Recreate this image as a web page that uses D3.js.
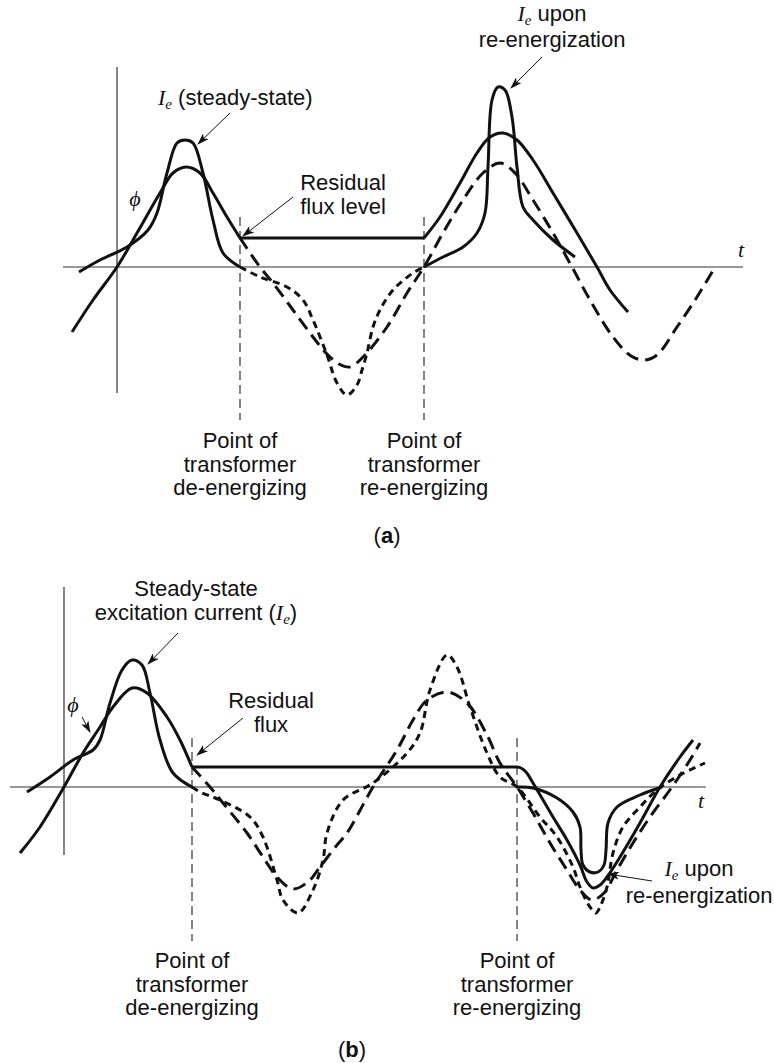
<!DOCTYPE html>
<html>
<head>
<meta charset="utf-8">
<script src="https://cdn.jsdelivr.net/npm/d3@7/dist/d3.min.js"></script>
<style>
  body { margin: 0; background: #fff; }
  text { font-family: "Liberation Sans", Arial, sans-serif; font-size: 22px; fill: #111; }
  .math { font-family: "Liberation Serif", "DejaVu Serif", serif; font-style: italic; }
</style>
</head>
<body>
<svg id="chart"></svg>
<script>
// ---- panel (a) : [t, value] pairs ----
const fluxA_before = [[-4.5,-6.5],[-2.4,-3.3],[0,0],[2.0,3.4],[4.3,7.4],[5.6,9.4],[6.9,10.0],[8.3,9.4],[9.6,7.4],[11.0,5.0],[12.3,2.9]];
const residualA = [[12.3,2.9],[30.7,2.9]];
const fluxA_after = [[30.7,2.9],[32.3,5.0],[34.3,8.4],[36.0,11.4],[37.3,13.0],[38.6,13.4],[40.0,12.7],[41.6,10.7],[43.6,7.4],[46.0,3.4],[48.0,0],[49.3,-2.3],[51.1,-4.5]];
const ssFluxA = [[12.3,2.9],[14.3,0],[15.6,-1.6],[17.6,-4.3],[19.6,-7.0],[20.9,-8.6],[22.2,-9.7],[23.3,-10.0],[24.6,-9.0],[27.0,-6.0],[29.0,-2.6],[30.7,0],[32.6,3.4],[34.6,6.7],[36.6,9.4],[38.3,10.4],[39.8,9.4],[41.6,6.7],[43.6,3.4],[45.5,0],[47.3,-3.3],[49.6,-7.0],[51.4,-8.9],[52.8,-9.3],[54.0,-8.8],[56.0,-6.0],[58.0,-3.0],[59.8,0]];
const ieA_steady = [[-3.8,-0.5],[-1.7,0.7],[1.0,2.0],[3.1,3.7],[4.0,5.4],[5.0,9.4],[6.0,12.4],[6.8,12.7],[7.6,12.4],[8.6,9.4],[9.6,4.7],[10.6,1.4],[12.3,0]];
const ieA_cont = [[12.3,0],[14.3,-1.0],[17.0,-2.0],[18.6,-3.3],[19.6,-5.3],[21.0,-8.8],[22.0,-11.6],[23.0,-12.8],[24.0,-11.8],[24.5,-10.3],[25.0,-8.6],[25.6,-6.0],[26.3,-4.3],[27.6,-2.3],[29.6,-0.6],[30.7,0]];
const ieA_reenergized = [[30.7,0],[32.6,1.0],[34.6,2.0],[36.0,3.4],[36.8,5.4],[37.1,10.0],[37.5,16.7],[38.1,18.0],[38.8,17.7],[39.5,15.0],[40.0,10.0],[40.6,6.0],[41.6,4.7],[43.6,2.7],[45.8,1.0]];
const switchA = [12.3, 30.7];

// ---- panel (b) ----
const fluxB_before = [[-4.4,-6.6],[-2.4,-4.0],[0,0],[1.9,3.4],[3.6,6.0],[4.9,8.0],[6.8,9.9],[8.3,9.4],[10.3,7.0],[11.6,4.7],[12.8,2.0]];
const residualB = [[12.8,2.0],[45.3,2.0]];
const fluxB_after = [[45.3,2.0],[45.7,1.9],[46.2,1.5],[46.9,0.4],[48.9,-3.0],[50.3,-5.3],[51.6,-7.8],[52.3,-9.5],[52.9,-10.1],[53.6,-9.8],[54.3,-9.0],[55.6,-7.0],[57.6,-3.6],[59.6,0],[61.6,3.0],[62.9,4.7]];
const ssFluxB = [[12.8,2.0],[14.6,0],[15.9,-1.6],[18.3,-4.6],[19.9,-7.0],[21.3,-9.0],[22.9,-10.2],[24.5,-9.4],[25.6,-8.0],[27.3,-5.8],[28.3,-4.6],[30.9,0],[33.3,3.7],[34.9,6.7],[36.3,8.7],[38.3,9.5],[40.3,8.4],[42.3,5.2],[43.6,2.4],[45.3,0],[46.9,-2.6],[48.6,-5.6],[50.3,-8.3],[51.6,-10.3],[52.8,-11.3],[54.0,-10.6],[55.3,-8.3],[56.9,-5.6],[58.6,-3.0],[60.8,0],[62.6,2.7],[63.6,4.4]];
const ieB_steady = [[-3.7,-0.5],[-1.4,1.0],[0.9,2.7],[2.9,3.7],[3.6,4.7],[4.6,8.4],[5.8,11.7],[6.8,12.7],[7.8,12.2],[8.6,9.4],[9.6,4.7],[10.9,1.4],[12.8,0]];
const ieB_cont = [[12.8,0],[13.6,-0.5],[15.6,-1.3],[18.6,-3.0],[19.9,-5.0],[21.3,-9.3],[21.9,-11.3],[23.4,-12.6],[24.9,-10.3],[25.9,-7.3],[26.3,-4.6],[27.9,-1.3],[30.9,0.4],[34.3,3.4],[35.6,5.4],[36.6,9.7],[38.3,13.2],[39.3,12.0],[40.6,8.0],[42.3,3.4],[43.6,1.0],[45.3,0],[47.6,-3.0],[49.3,-5.0],[50.9,-8.0],[51.6,-10.0],[52.6,-12.0],[53.2,-12.6],[53.6,-12.0],[54.3,-10.0],[54.9,-6.6],[55.9,-4.0],[57.6,-2.0],[59.3,-0.3],[61.6,1.2],[64.1,2.4]];
const ieB_reenergized = [[45.3,0],[46.9,-0.1],[49.3,-1.1],[50.9,-2.5],[51.6,-4.0],[51.7,-6.3],[51.9,-7.8],[52.6,-8.5],[53.4,-8.5],[54.0,-7.8],[54.2,-6.3],[54.4,-3.6],[55.3,-2.0],[57.6,-0.8],[59.8,0]];
const switchB = [12.8, 45.3];

const pointLabelA = ['Point of', 'transformer', 'de-energizing'];
const pointLabelB = ['Point of', 'transformer', 're-energizing'];

const svgWidth = 774;
const svgHeight = 1063;

const svg = d3.select('#chart')
  .attr('width', svgWidth)
  .attr('height', svgHeight);

svg.append('rect').attr('width', svgWidth).attr('height', svgHeight).attr('fill', '#fff');

svg.append('defs').append('marker')
  .attr('id', 'head')
  .attr('markerUnits', 'userSpaceOnUse')
  .attr('markerWidth', 12).attr('markerHeight', 8)
  .attr('refX', 11).attr('refY', 4)
  .attr('orient', 'auto')
  .append('path')
  .attr('d', 'M0,0 L12,4 L0,8 L3,4 z')
  .attr('fill', '#111');

const SOLID = null, LONG = '13 7', SHORT = '7 5';

function drawPanel(cfg) {
  const x = d3.scaleLinear().domain([0, 10]).range([cfg.ox, cfg.ox + 100]);
  const y = d3.scaleLinear().domain([0, 10]).range([cfg.oy, cfg.oy - 100]);
  const g = svg.append('g');

  const curve = d3.line().x(d => x(d[0])).y(d => y(d[1])).curve(d3.curveCatmullRom.alpha(0.5));
  const straight = d3.line().x(d => x(d[0])).y(d => y(d[1]));

  // axes
  g.append('line')
    .attr('x1', x(cfg.hAxis[0])).attr('x2', x(cfg.hAxis[1]))
    .attr('y1', y(0)).attr('y2', y(0))
    .attr('stroke', '#333').attr('stroke-width', 1.2);
  g.append('line')
    .attr('x1', x(0)).attr('x2', x(0))
    .attr('y1', y(cfg.vAxis[0])).attr('y2', y(cfg.vAxis[1]))
    .attr('stroke', '#333').attr('stroke-width', 1.2);

  // switching instants
  cfg.switches.forEach(t => {
    g.append('line')
      .attr('x1', x(t)).attr('x2', x(t))
      .attr('y1', y(cfg.dropTop)).attr('y2', y(cfg.dropBottom))
      .attr('stroke', '#333').attr('stroke-width', 1.2)
      .attr('stroke-dasharray', '9 5');
  });

  cfg.curves.forEach(c => {
    g.append('path')
      .datum(c.data)
      .attr('fill', 'none')
      .attr('stroke', '#111')
      .attr('stroke-width', 3)
      .attr('stroke-linejoin', 'round')
      .attr('stroke-dasharray', c.dash)
      .attr('d', c.straight ? straight : curve);
  });

  // annotations
  cfg.arrows.forEach(a => {
    g.append('line')
      .attr('x1', x(a[0])).attr('y1', y(a[1]))
      .attr('x2', x(a[2])).attr('y2', y(a[3]))
      .attr('stroke', '#111').attr('stroke-width', 1)
      .attr('marker-end', 'url(#head)');
  });

  cfg.labels.forEach(l => {
    const txt = g.append('text')
      .attr('x', x(l.t)).attr('y', y(l.v))
      .attr('text-anchor', l.anchor || 'middle');
    l.parts.forEach(p => {
      const ts = txt.append('tspan').text(p.s);
      if (p.math) ts.attr('class', 'math');
      if (p.sub) ts.attr('class', 'math').attr('font-size', 15).attr('dy', 4);
      if (p.back) ts.attr('dy', -4);
      if (p.bold) ts.attr('font-weight', 'bold');
    });
  });

  cfg.switches.forEach((t, i) => {
    cfg.pointLabels[i].forEach((s, j) => {
      g.append('text')
        .attr('x', x(t)).attr('y', y(cfg.labelV[j]))
        .attr('text-anchor', 'middle')
        .text(s);
    });
  });

  g.append('text')
    .attr('x', x(cfg.tLabel[0])).attr('y', y(cfg.tLabel[1]))
    .attr('class', 'math').attr('font-size', 23)
    .text('t');
}

drawPanel({
  ox: 117, oy: 267,
  hAxis: [-5.4, 62.6], vAxis: [20, -12.6],
  switches: switchA, dropTop: 5, dropBottom: -15.3,
  pointLabels: [pointLabelA, pointLabelB], labelV: [-18.1, -20.5, -22.8],
  tLabel: [62.1, 1.0],
  curves: [
    { data: ssFluxA, dash: LONG },
    { data: ieA_cont, dash: SHORT },
    { data: fluxA_before, dash: SOLID },
    { data: residualA, dash: SOLID, straight: true },
    { data: fluxA_after, dash: SOLID },
    { data: ieA_steady, dash: SOLID },
    { data: ieA_reenergized, dash: SOLID }
  ],
  arrows: [[11.3,15.4,8.1,12.3],[17.6,7.0,12.6,3.1],[42.5,21.0,39.4,17.9]],
  labels: [
    { t: 4.1, v: 16.2, anchor: 'start', parts: [{ s: 'I', math: true }, { s: 'e', sub: true }, { s: ' (steady-state)', back: true }] },
    { t: 22.6, v: 7.7, parts: [{ s: 'Residual' }] },
    { t: 22.6, v: 5.3, parts: [{ s: 'flux level' }] },
    { t: 43.5, v: 24.6, parts: [{ s: 'I', math: true }, { s: 'e', sub: true }, { s: ' upon', back: true }] },
    { t: 43.5, v: 22.0, parts: [{ s: 're-energization' }] },
    { t: 1.8, v: 6.1, parts: [{ s: '\u03D5', math: true }] },
    { t: 27.0, v: -27.6, parts: [{ s: '(' }, { s: 'a', bold: true }, { s: ')' }] }
  ]
});

drawPanel({
  ox: 64, oy: 787,
  hAxis: [-5.4, 64.2], vAxis: [20, -6.8],
  switches: switchB, dropTop: 4.9, dropBottom: -15.4,
  pointLabels: [pointLabelA, pointLabelB], labelV: [-18.1, -20.5, -22.8],
  tLabel: [63.4, -2.1],
  curves: [
    { data: ssFluxB, dash: LONG },
    { data: ieB_cont, dash: SHORT },
    { data: fluxB_before, dash: SOLID },
    { data: residualB, dash: SOLID, straight: true },
    { data: fluxB_after, dash: SOLID },
    { data: ieB_steady, dash: SOLID },
    { data: ieB_reenergized, dash: SOLID }
  ],
  arrows: [[11.4,15.4,8.4,12.3],[1.8,7.0,2.6,5.5],[17.9,6.9,13.3,3.2],[58.8,-9.4,54.4,-8.7]],
  labels: [
    { t: 13.2, v: 19.1, parts: [{ s: 'Steady-state' }] },
    { t: 13.2, v: 16.7, parts: [{ s: 'excitation current (' }, { s: 'I', math: true }, { s: 'e', sub: true }, { s: ')', back: true }] },
    { t: 0.9, v: 7.5, parts: [{ s: '\u03D5', math: true }] },
    { t: 20.7, v: 7.9, parts: [{ s: 'Residual' }] },
    { t: 20.7, v: 5.5, parts: [{ s: 'flux' }] },
    { t: 63.5, v: -8.9, parts: [{ s: 'I', math: true }, { s: 'e', sub: true }, { s: ' upon', back: true }] },
    { t: 63.5, v: -11.6, parts: [{ s: 're-energization' }] },
    { t: 28.8, v: -27.0, parts: [{ s: '(' }, { s: 'b', bold: true }, { s: ')' }] }
  ]
});
</script>
</body>
</html>
